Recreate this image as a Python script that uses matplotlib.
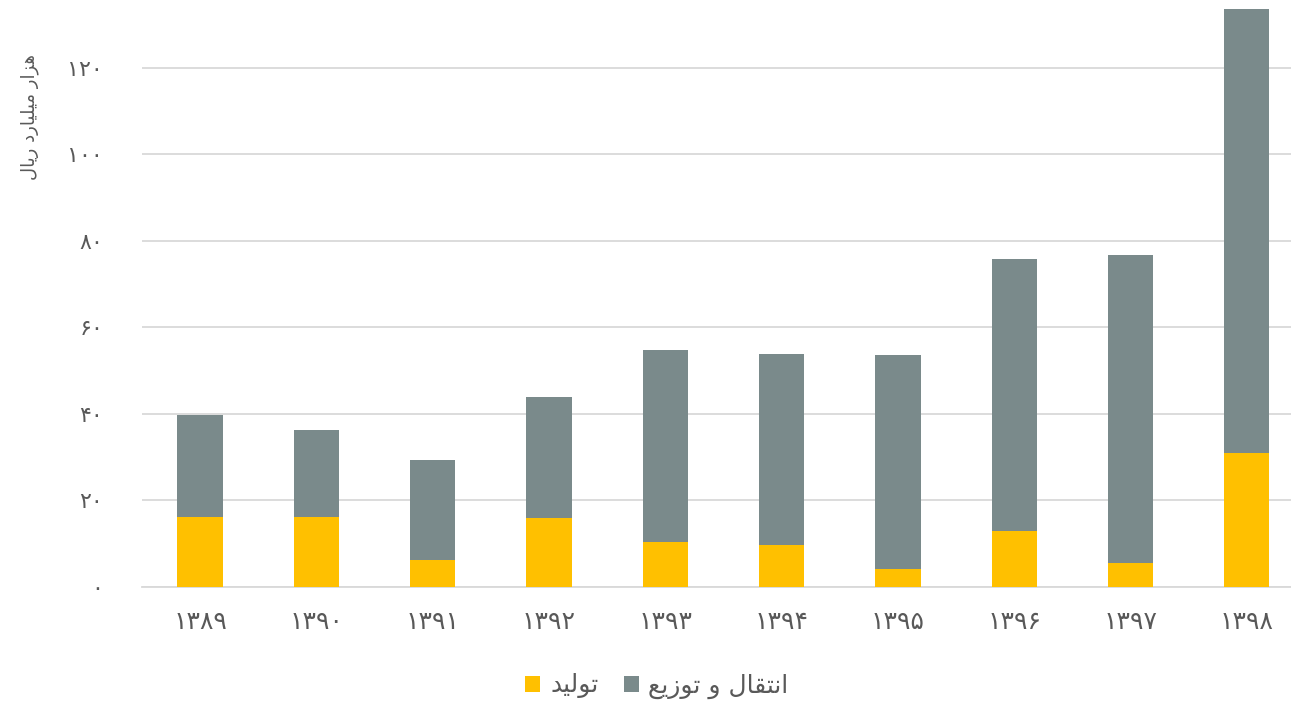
import numpy as np
import matplotlib
matplotlib.use("Agg")
import matplotlib.pyplot as plt

# years (Persian digits) and values in thousand billion rial
years = ["۱۳۸۹", "۱۳۹۰", "۱۳۹۱", "۱۳۹۲", "۱۳۹۳", "۱۳۹۴", "۱۳۹۵", "۱۳۹۶", "۱۳۹۷", "۱۳۹۸"]
production = [16.0, 16.0, 6.2, 15.8, 10.3, 9.6, 4.0, 12.9, 5.4, 30.8]
transmission = [23.6, 20.3, 23.2, 28.1, 44.4, 44.2, 49.6, 62.8, 71.3, 102.8]
yticks = [0, 20, 40, 60, 80, 100, 120]
ytick_labels = ["۰", "۲۰", "۴۰", "۶۰", "۸۰", "۱۰۰", "۱۲۰"]

# Persian strings written in shaped presentation forms, visual order
# (matplotlib 3.10 does not shape/bidi arabic script)
ylabel_txt = "\uFEDD\uFE8E\uFBFE\uFEAD \uFEA9\uFEAD\uFE8E\uFBFF\uFEE0\uFBFF\uFEE3 \uFEAD\uFE8D\uFEB0\uFEEB"  # هزار میلیارد ریال
prod_txt = "\uFEAA\uFBFF\uFEDF\uFEEE\uFE97"  # تولید
trans_txt = "\uFECA\uFBFE\uFEAF\uFEEE\uFE97 \uFEED \uFEDD\uFE8E\uFED8\uFE98\uFEE7\uFE8D"  # انتقال و توزیع

yellow = "#FFC000"
gray = "#7A8A8B"
txt = "#595959"

plt.rcParams['font.family'] = ['DejaVu Sans']

fig = plt.figure(figsize=(12.91, 7.01), dpi=100)
ax = fig.add_axes([142 / 1291, 1 - 586.7 / 701, 1 - 142 / 1291, 586.7 / 701])

x = np.arange(len(years))
b1 = ax.bar(x, production, width=0.39, color=yellow, zorder=3, label=prod_txt)
b2 = ax.bar(x, transmission, width=0.39, bottom=production, color=gray, zorder=3, label=trans_txt)

ax.set_xlim(-0.5, 9.38)
ax.set_ylim(0, 135.65)
ax.set_yticks(yticks)
ax.set_yticklabels(ytick_labels)
ax.set_xticks(x)
ax.set_xticklabels(years)
ax.grid(axis='y', color='#d9d9d9', linewidth=1.3, zorder=0)
ax.tick_params(axis='y', length=0, pad=28, labelsize=16, labelcolor=txt)
ax.tick_params(axis='x', length=0, pad=17, labelsize=18, labelcolor=txt)
for s in ['left', 'right', 'top']:
    ax.spines[s].set_visible(False)
ax.spines['bottom'].set_color('#d9d9d9')
ax.spines['bottom'].set_linewidth(1.3)

fig.text(30 / 1291, 1 - 117 / 701, ylabel_txt, rotation=90, ha='center', va='center',
         fontsize=13, color=txt)

fig.legend(handles=[b1, b2], loc='center', bbox_to_anchor=(657 / 1291, 1 - 686 / 701),
           ncol=2, frameon=False, fontsize=18, labelcolor=txt,
           handlelength=0.6, handleheight=0.6, handletextpad=0.4, columnspacing=1.0)

fig.savefig("out.png", dpi=100)
